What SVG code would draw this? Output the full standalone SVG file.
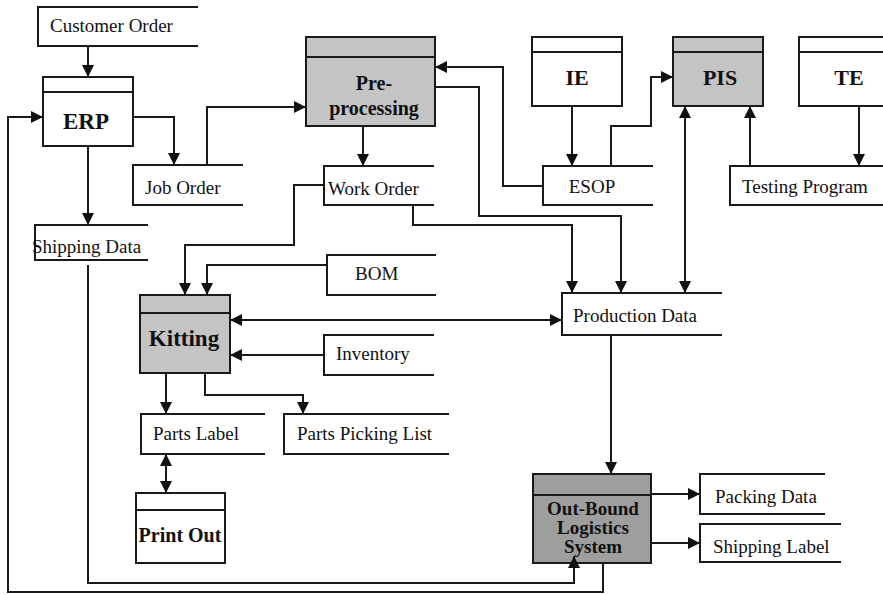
<svg xmlns="http://www.w3.org/2000/svg" width="883" height="595" viewBox="0 0 883 595">
<style>
.bg{fill:#ffffff}
.box{stroke:#1a1a1a;stroke-width:2;fill:#ffffff}
.g1{fill:#c4c4c4}
.g2{fill:#9e9e9e}
.ds{fill:none;stroke:#1a1a1a;stroke-width:2}
.hd{stroke:#1a1a1a;stroke-width:2}
.t{font-family:"Liberation Serif","Times New Roman",serif;font-size:19px;fill:#111}
.b{font-family:"Liberation Serif","Times New Roman",serif;font-weight:bold;fill:#111;text-anchor:middle}
.c path{fill:none;stroke:#1a1a1a;stroke-width:2}
.a{marker-end:url(#ah)}
.d{marker-start:url(#ah);marker-end:url(#ah)}
</style>
<defs>
<marker id="ah" markerUnits="userSpaceOnUse" markerWidth="13" markerHeight="12" refX="12" refY="6" orient="auto-start-reverse">
<path d="M0,0 L12,6 L0,12 z" fill="#111"/>
</marker>
</defs>
<rect class="bg" x="0" y="0" width="883" height="595"/>

<g id="customer-order"><path class="ds" d="M198,7 H38 V46 H198"/><text class="t" x="50" y="32">Customer Order</text></g>
<g id="erp"><rect class="box" x="43" y="77" width="90" height="69"/><line class="hd" x1="43" y1="92" x2="133" y2="92"/><text class="b" x="86" y="129" font-size="23">ERP</text></g>
<g id="job-order"><path class="ds" d="M243,165 H133 V205 H243"/><text class="t" x="145" y="194">Job Order</text></g>
<g id="shipping-data"><path class="ds" d="M148,225 H35 V260 H148"/><text class="t" x="32" y="253">Shipping Data</text></g>
<g id="pre-processing"><rect class="box g1" x="306" y="37" width="129" height="89"/><line class="hd" x1="306" y1="57" x2="435" y2="57"/><text class="b" x="374" y="90" font-size="20">Pre-</text><text class="b" x="374" y="115" font-size="20">processing</text></g>
<g id="work-order"><path class="ds" d="M434,166 H324 V205 H434"/><text class="t" x="328" y="195">Work Order</text></g>
<g id="ie"><rect class="box" x="532" y="37" width="90" height="69"/><line class="hd" x1="532" y1="52" x2="622" y2="52"/><text class="b" x="577" y="85" font-size="22">IE</text></g>
<g id="esop"><path class="ds" d="M653,166 H543 V205 H653"/><text class="t" x="592" y="193" text-anchor="middle">ESOP</text></g>
<g id="pis"><rect class="box g1" x="673" y="37" width="90" height="69"/><line class="hd" x1="673" y1="52" x2="763" y2="52"/><text class="b" x="720" y="85" font-size="22">PIS</text></g>
<g id="te"><rect class="box" x="799" y="37" width="92" height="69"/><line class="hd" x1="799" y1="52" x2="891" y2="52"/><text class="b" x="849" y="85" font-size="22">TE</text></g>
<g id="testing-program"><path class="ds" d="M890,166 H730 V205 H890"/><text class="t" x="742" y="193">Testing Program</text></g>
<g id="bom"><path class="ds" d="M436,255 H327 V295 H436"/><text class="t" x="355" y="280">BOM</text></g>
<g id="kitting"><rect class="box g1" x="140" y="295" width="90" height="78"/><line class="hd" x1="140" y1="313" x2="230" y2="313"/><text class="b" x="184" y="346" font-size="23">Kitting</text></g>
<g id="production-data"><path class="ds" d="M722,293 H562 V335 H722"/><text class="t" x="573" y="322">Production Data</text></g>
<g id="inventory"><path class="ds" d="M434,335 H324 V375 H434"/><text class="t" x="336" y="360">Inventory</text></g>
<g id="parts-label"><path class="ds" d="M265,414 H141 V454 H265"/><text class="t" x="153" y="440">Parts Label</text></g>
<g id="parts-picking-list"><path class="ds" d="M449,414 H284 V454 H449"/><text class="t" x="297" y="440">Parts Picking List</text></g>
<g id="print-out"><rect class="box" x="136" y="493" width="89" height="70"/><line class="hd" x1="136" y1="510" x2="225" y2="510"/><text class="b" x="180" y="542" font-size="20">Print Out</text></g>
<g id="out-bound"><rect class="box g2" x="533" y="474" width="118" height="89"/><line class="hd" x1="533" y1="495" x2="651" y2="495"/><text class="b" x="593" y="515" font-size="19">Out-Bound</text><text class="b" x="593" y="534" font-size="19">Logistics</text><text class="b" x="593" y="553" font-size="19">System</text></g>
<g id="packing-data"><path class="ds" d="M825,474 H700 V514 H825"/><text class="t" x="715" y="503">Packing Data</text></g>
<g id="shipping-label"><path class="ds" d="M841,524 H700 V562 H841"/><text class="t" x="713" y="553">Shipping Label</text></g>

<g id="connectors" class="c">
<path class="a" d="M88,46 V77"/>
<path class="a" d="M603,563 V592 H8 V117 H43"/>
<path class="a" d="M133,117 H174 V165"/>
<path class="a" d="M207,165 V107 H306"/>
<path class="a" d="M363,126 V166"/>
<path class="a" d="M543,186 H503 V67 H435"/>
<path class="a" d="M435,87 H479 V216 H621 V293"/>
<path class="a" d="M572,106 V166"/>
<path class="a" d="M611,166 V126 H651 V77 H673"/>
<path class="d" d="M685,106 V293"/>
<path class="a" d="M750,166 V106"/>
<path class="a" d="M859,106 V166"/>
<path class="a" d="M324,185 H294 V245 H185 V295"/>
<path class="a" d="M327,265 H207 V295"/>
<path class="d" d="M230,320 H562"/>
<path class="a" d="M324,355 H230"/>
<path class="a" d="M413,205 V225 H572 V293"/>
<path class="a" d="M611,335 V474"/>
<path class="a" d="M651,494 H700"/>
<path class="a" d="M651,543 H700"/>
<path class="a" d="M88,265 V583 H574 V556"/>
<path class="a" d="M88,146 V225"/>
<path class="a" d="M166,373 V414"/>
<path class="a" d="M205,373 V395 H303 V414"/>
<path class="d" d="M166,454 V493"/>
</g>
</svg>
